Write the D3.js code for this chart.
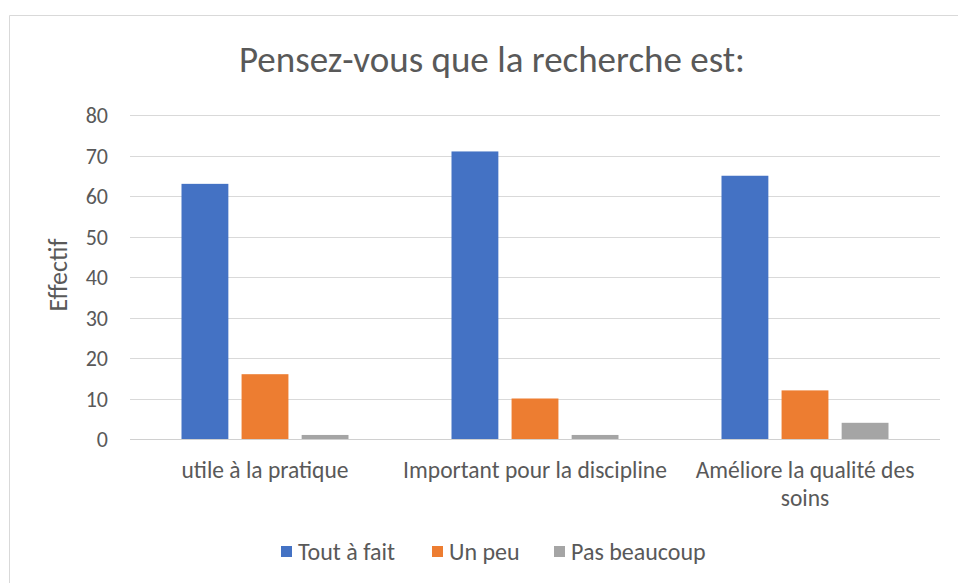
<!DOCTYPE html>
<html>
<head>
<meta charset="utf-8">
<script src="https://cdn.jsdelivr.net/npm/d3@7"></script>
<style>
  body { margin: 0; background: #fff; }
  svg { display: block; font-family: Calibri, Carlito, Lato, sans-serif; }
</style>
</head>
<body>
<svg id="chart" width="958" height="583"></svg>
<script>
// data
const categories = ['utile à la pratique', 'Important pour la discipline', 'Améliore la qualité des soins']
const series = ['Tout à fait', 'Un peu', 'Pas beaucoup']
const toutAFait = [63, 71, 65]
const unPeu = [16, 10, 12]
const pasBeaucoup = [1, 1, 4]
const yTicks = [0, 10, 20, 30, 40, 50, 60, 70, 80]
const colors = ['#4472C4', '#ED7D31', '#A5A5A5']

const values = [toutAFait, unPeu, pasBeaucoup]
const rows = categories.map((c, i) => ({ cat: c, vals: series.map((s, j) => ({ s, v: values[j][i] })) }))

const svg = d3.select('#chart')
const textColor = '#595959'

// outer frame (only top and left visible in the picture)
svg.append('path')
  .attr('d', 'M9.5,583 V15.5 H958')
  .attr('fill', 'none')
  .attr('stroke', '#d9d9d9')
  .attr('stroke-width', 1)

const plotL = 130, plotR = 940, plotT = 115, plotB = 439

const y = d3.scaleLinear().domain([0, 80]).range([plotB, plotT])
const x0 = d3.scaleBand().domain(categories).range([plotL, plotR])
  .paddingInner(103 / 270).paddingOuter(103 / 540)
const x1 = d3.scaleBand().domain(series).range([0, x0.bandwidth()]).paddingInner(0.22)
const color = d3.scaleOrdinal().domain(series).range(colors)

// gridlines
svg.append('g')
  .selectAll('line')
  .data(yTicks)
  .join('line')
  .attr('x1', plotL).attr('x2', plotR)
  .attr('y1', d => Math.round(y(d)) + 0.5).attr('y2', d => Math.round(y(d)) + 0.5)
  .attr('stroke', '#d9d9d9')
  .attr('stroke-width', 1)

// y axis labels
const yAxis = svg.append('g')
  .attr('transform', `translate(${plotL - 22},0)`)
  .call(d3.axisLeft(y).tickValues(yTicks).tickSize(0).tickPadding(0))
yAxis.select('.domain').remove()
yAxis.selectAll('text')
  .attr('fill', textColor)
  .attr('dy', '0.36em')
  .style('font-size', '22px')
  .style('font-family', 'Calibri, Carlito, Lato, sans-serif')

// bars
svg.append('g')
  .selectAll('g')
  .data(rows)
  .join('g')
  .attr('transform', d => `translate(${x0(d.cat)},0)`)
  .selectAll('rect')
  .data(d => d.vals)
  .join('rect')
  .attr('x', d => x1(d.s))
  .attr('width', x1.bandwidth())
  .attr('y', d => y(d.v))
  .attr('height', d => y(0) - y(d.v))
  .attr('fill', d => color(d.s))

// baseline
svg.append('line')
  .attr('x1', plotL).attr('x2', plotR)
  .attr('y1', Math.round(y(0)) + 0.5).attr('y2', Math.round(y(0)) + 0.5)
  .attr('stroke', '#d0d0d0')

// category labels, wrapped like Excel
const maxW = 267
const catG = svg.append('g')
categories.forEach(c => {
  const cx = x0(c) + x0.bandwidth() / 2
  const t = catG.append('text')
    .attr('x', cx).attr('y', 478)
    .attr('text-anchor', 'middle')
    .attr('fill', textColor)
    .style('font-size', '23.5px')
  const words = c.split(' ')
  let line = []
  let ts = t.append('tspan').attr('x', cx).attr('dy', 0)
  words.forEach(w => {
    line.push(w)
    ts.text(line.join(' '))
    if (ts.node().getComputedTextLength() > maxW && line.length > 1) {
      line.pop()
      ts.text(line.join(' '))
      line = [w]
      ts = t.append('tspan').attr('x', cx).attr('dy', '28px').text(w)
    }
  })
})

// title
svg.append('text')
  .attr('x', 492).attr('y', 72)
  .attr('text-anchor', 'middle')
  .attr('fill', textColor)
  .style('font-size', '37px')
  .text('Pensez-vous que la recherche est:')

// y axis title
svg.append('text')
  .attr('transform', 'translate(67,275) rotate(-90)')
  .attr('text-anchor', 'middle')
  .attr('fill', textColor)
  .style('font-size', '26px')
  .text('Effectif')

// legend
const legendX = [281, 432, 554]
const legend = svg.append('g')
  .selectAll('g')
  .data(series)
  .join('g')
  .attr('transform', (d, i) => `translate(${legendX[i]},546)`)
legend.append('rect')
  .attr('width', 11).attr('height', 11)
  .attr('fill', d => color(d))
legend.append('text')
  .attr('x', 17).attr('y', 14)
  .attr('fill', textColor)
  .style('font-size', '24px')
  .text(d => d)
</script>
</body>
</html>
